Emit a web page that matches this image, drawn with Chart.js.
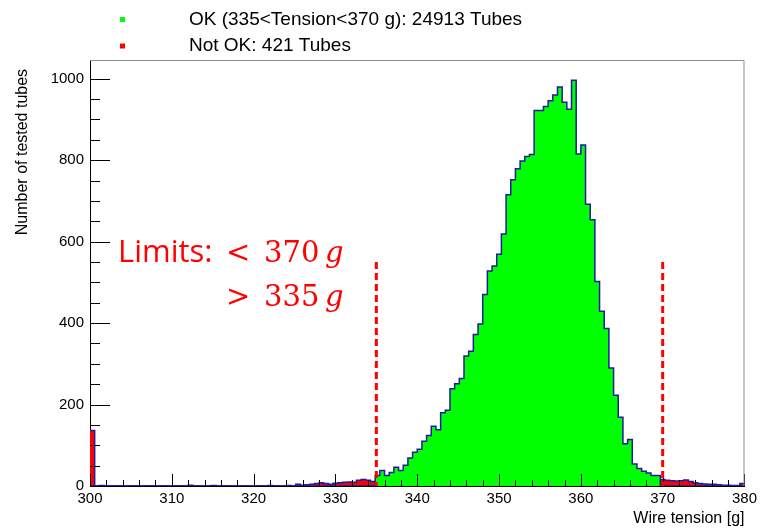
<!DOCTYPE html>
<html>
<head>
<meta charset="utf-8">
<title>Wire tension</title>
<script src="https://cdn.jsdelivr.net/npm/chart.js@4.4.1/dist/chart.umd.min.js"></script>
<style>
  html, body { margin: 0; padding: 0; background: #fff; }
  #wrap { width: 761px; height: 528px; }
</style>
</head>
<body>
<div id="wrap"><canvas id="tensionChart" width="761" height="528"></canvas></div>
<script>
// ---------- Histogram binning ----------
const X_MIN  = 300;
const X_MAX  = 380;
const N_BINS = 140;          // 4/7 g per bin
const Y_MAX  = 1046;

// ---------- Bin counts (20 bins per row) ----------
const okCounts = [
  0, 0, 0, 0, 0, 0, 0, 0, 0, 0, 0, 0, 0, 0, 0, 0, 0, 0, 0, 0,
  0, 0, 0, 0, 0, 0, 0, 0, 0, 0, 0, 0, 0, 0, 0, 0, 0, 0, 0, 0,
  0, 0, 0, 0, 0, 0, 0, 0, 0, 0, 0, 0, 0, 0, 0, 0, 0, 0, 0, 0,
  0, 26, 38, 26, 33, 46, 38, 51, 69, 83, 90, 110, 124, 147, 138, 180, 186, 239, 251, 264,
  319, 331, 372, 398, 470, 528, 540, 569, 619, 715, 752, 779, 798, 809, 814, 922, 922, 932, 946, 960,
  980, 942, 925, 996, 815, 837, 692, 654, 502, 429, 387, 290, 223, 169, 104, 114, 54, 43, 36, 32,
  26, 26, 0, 0, 0, 0, 0, 0, 0, 0, 0, 0, 0, 0, 0, 0, 0, 0, 0, 0,
];

const notOkCounts = [
  136, 0, 1, 0, 0, 0, 0, 0, 0, 0, 0, 0, 0, 0, 0, 0, 0, 0, 0, 0,
  0, 2, 0, 0, 0, 0, 1, 0, 0, 0, 0, 0, 0, 0, 0, 0, 0, 0, 1, 0,
  0, 0, 1, 0, 4, 2, 3, 4, 6, 8, 6, 4, 7, 8, 9, 10, 9, 14, 16, 14,
  11, 8, 0, 0, 0, 0, 0, 0, 0, 0, 0, 0, 0, 0, 0, 0, 0, 0, 0, 0,
  0, 0, 0, 0, 0, 0, 0, 0, 0, 0, 0, 0, 0, 0, 0, 0, 0, 0, 0, 0,
  0, 0, 0, 0, 0, 0, 0, 0, 0, 0, 0, 0, 0, 0, 0, 0, 0, 0, 0, 0,
  0, 0, 16, 14, 13, 12, 13, 15, 11, 8, 6, 5, 4, 4, 3, 2, 2, 1, 1, 6,
];

// ---------- Axes / labels ----------
const xTicks = [300, 310, 320, 330, 340, 350, 360, 370, 380];
const yTicks = [0, 200, 400, 600, 800, 1000];

const limits         = [335, 370];
const LIMIT_LINE_TOP = 550;

const legendLabels = ['OK (335<Tension<370 g): 24913 Tubes', 'Not OK: 421 Tubes'];

// ---------- Colors ----------
const OK_COLOR    = '#00ff00';
const NOTOK_COLOR = '#ff0000';
const LINE_COLOR  = '#1c1c9e';
const FONT        = '"Liberation Sans", Arial, sans-serif';

// turn bin counts into step points at the bin edges
function toSteps(counts) {
  const w = (X_MAX - X_MIN) / N_BINS;
  const pts = counts.map((c, i) => ({ x: X_MIN + i * w, y: c }));
  pts.push({ x: X_MAX, y: counts[counts.length - 1] });
  return pts;
}

// ---------- Plugins ----------
const insideTicks = {
  id: 'insideTicks',
  afterDatasetsDraw(chart) {
    const { ctx, chartArea: a, scales: { x, y } } = chart;
    ctx.save();
    ctx.strokeStyle = '#000';
    ctx.lineWidth = 1;
    ctx.beginPath();
    for (let v = X_MIN; v <= X_MAX; v += 2) {
      const px = Math.round(x.getPixelForValue(v)) + 0.5;
      const len = v % 10 === 0 ? 12 : 6;
      ctx.moveTo(px, a.bottom);
      ctx.lineTo(px, a.bottom - len);
    }
    for (let v = 0; v <= y.max; v += 50) {
      const py = Math.round(y.getPixelForValue(v)) + 0.5;
      const len = v % 200 === 0 ? 20 : 10;
      ctx.moveTo(a.left, py);
      ctx.lineTo(a.left + len, py);
    }
    ctx.stroke();

    // top and right frame
    ctx.strokeStyle = '#8c8c8c';
    ctx.beginPath();
    ctx.moveTo(a.left, a.top + 0.5);
    ctx.lineTo(a.right - 0.5, a.top + 0.5);
    ctx.lineTo(a.right - 0.5, a.bottom);
    ctx.stroke();
    ctx.restore();
  }
};

const limitMarks = {
  id: 'limitMarks',
  afterDatasetsDraw(chart) {
    const { ctx, scales: { x, y } } = chart;
    ctx.save();
    ctx.strokeStyle = NOTOK_COLOR;
    ctx.lineWidth = 3;
    ctx.setLineDash([7, 4]);
    limits.forEach(v => {
      const px = x.getPixelForValue(v);
      ctx.beginPath();
      ctx.moveTo(px, y.getPixelForValue(LIMIT_LINE_TOP));
      ctx.lineTo(px, y.getPixelForValue(0));
      ctx.stroke();
    });
    ctx.setLineDash([]);

    // "Limits:" annotation
    ctx.fillStyle = NOTOK_COLOR;
    ctx.textBaseline = 'alphabetic';
    ctx.textAlign = 'left';
    ctx.font = '31px "Open Sans", sans-serif';
    ctx.fillText('Limits:', 118, 262);

    const rows = [['<', String(limits[1]), 262], ['>', String(limits[0]), 306]];
    rows.forEach(([sign, num, base]) => {
      ctx.font = '29px "DejaVu Serif", serif';
      ctx.fillText(sign, 226, base);
      ctx.fillText(num, 264, base);
      ctx.font = 'italic 29px "DejaVu Serif", serif';
      ctx.fillText('g', 325, base);
    });
    ctx.restore();
  }
};

const legendBoxes = {
  id: 'legendBoxes',
  afterDraw(chart) {
    const { ctx } = chart;
    const colors = [OK_COLOR, NOTOK_COLOR];
    ctx.save();
    ctx.textBaseline = 'middle';
    ctx.textAlign = 'left';
    ctx.font = '19px ' + FONT;
    legendLabels.forEach((txt, i) => {
      const cy = 19.5 + i * 26.5;
      ctx.fillStyle = colors[i];
      ctx.fillRect(120, cy - 2.5, 5, 5);
      ctx.fillStyle = '#000';
      ctx.fillText(txt, 189, cy);
    });
    ctx.restore();
  }
};

// ---------- Chart ----------
const ctx = document.getElementById('tensionChart').getContext('2d');

new Chart(ctx, {
  type: 'line',
  data: {
    datasets: [
      {
        label:           legendLabels[0],
        data:            toSteps(okCounts),
        stepped:         'before',   // horizontal at previous value, then vertical
        fill:            'origin',
        backgroundColor: OK_COLOR,
        borderColor:     LINE_COLOR,
        borderWidth:     1.5,
        pointRadius:     0,
      },
      {
        label:           legendLabels[1],
        data:            toSteps(notOkCounts),
        stepped:         'before',
        fill:            'origin',
        backgroundColor: NOTOK_COLOR,
        borderColor:     LINE_COLOR,
        borderWidth:     1.5,
        pointRadius:     0,
      },
    ],
  },
  options: {
    responsive:       false,
    animation:        false,
    devicePixelRatio: 1,
    layout: { padding: { top: 60, right: 12, left: 0, bottom: 0 } },
    plugins: {
      legend:  { display: false },
      tooltip: { enabled: false },
    },
    scales: {
      x: {
        type: 'linear',
        min:  X_MIN,
        max:  X_MAX,
        afterBuildTicks: s => { s.ticks = xTicks.map(v => ({ value: v })); },
        afterFit:        s => { s.height = 42; },
        grid:   { display: false, drawTicks: false },
        border: { color: '#000', width: 1 },
        ticks:  {
          color: '#000', font: { family: FONT, size: 15 }, padding: 4,
          maxRotation: 0, autoSkip: false, callback: v => String(v),
        },
        title:  {
          display: true, text: 'Wire tension [g]', align: 'end', color: '#000',
          font: { family: FONT, size: 16 }, padding: { top: 0, bottom: 0 },
        },
      },
      y: {
        min: 0,
        max: Y_MAX,
        afterBuildTicks: s => { s.ticks = yTicks.map(v => ({ value: v })); },
        afterFit:        s => { s.width = 90; },
        grid:   { display: false, drawTicks: false },
        border: { color: '#000', width: 1 },
        ticks:  { color: '#000', font: { family: FONT, size: 15 }, padding: 6, callback: v => String(v) },
        title:  {
          display: true, text: 'Number of tested tubes\u00a0\u00a0', align: 'end', color: '#000',
          font: { family: FONT, size: 16 }, padding: { top: 13, bottom: 0 },
        },
      },
    },
  },
  plugins: [insideTicks, limitMarks, legendBoxes],
});
</script>
</body>
</html>
